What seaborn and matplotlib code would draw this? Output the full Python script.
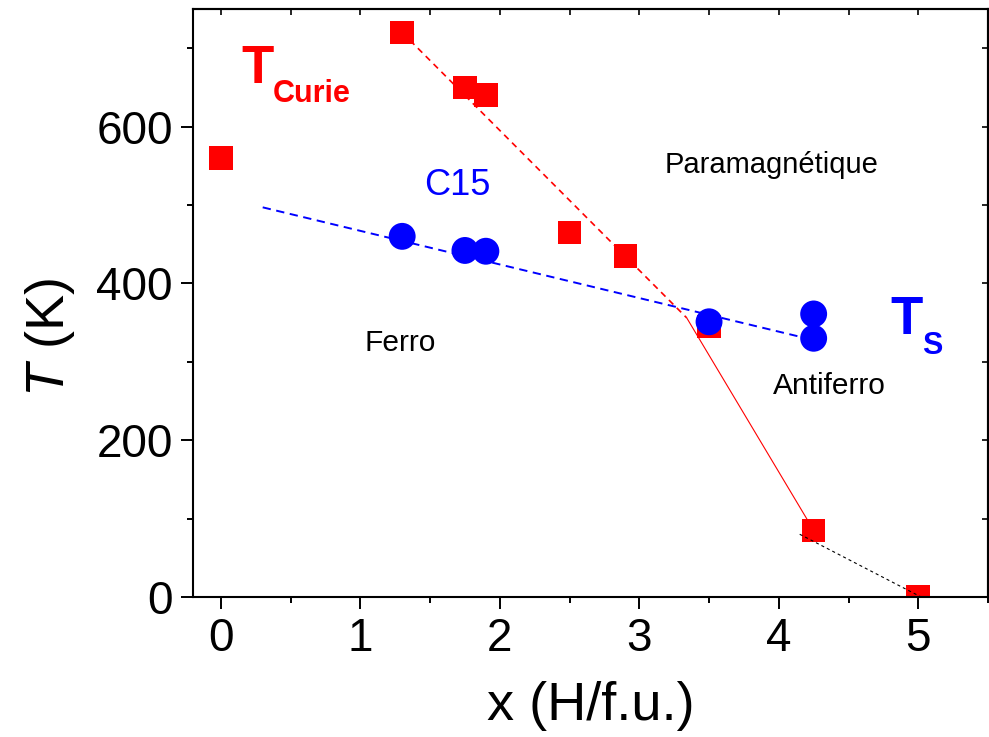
import matplotlib
matplotlib.use("Agg")
import matplotlib.pyplot as plt
from matplotlib.ticker import MultipleLocator
import numpy as np
import pandas as pd
import seaborn as sns

# Curie temperatures (red squares)
x_curie = [0.0, 1.3, 1.75, 1.9, 2.5, 2.9, 3.5, 4.25, 5.0]
t_curie = [560, 720, 650, 640, 465, 435, 345, 85, 0]

# Structural transition temperatures (blue circles)
x_struct = [1.3, 1.75, 1.9, 3.5, 4.25, 4.25]
t_struct = [460, 442, 441, 351, 361, 330]

# Guide lines through the phase boundaries
x_fit_curie = [1.3, 3.34]
t_fit_curie = [720, 356]
x_fit_afm = [3.34, 4.25]
t_fit_afm = [356, 85]
x_fit_tail = [4.15, 5.02]
t_fit_tail = [80, 0]
x_fit_struct = [0.3, 4.15]
t_fit_struct = [497, 332]

x_ticks = [0, 1, 2, 3, 4, 5]
y_ticks = [0, 200, 400, 600]

sns.set_style("ticks")
plt.rcParams["font.family"] = ["Liberation Sans", "DejaVu Sans"]
plt.rcParams["mathtext.fontset"] = "custom"
plt.rcParams["mathtext.rm"] = "Liberation Sans"
plt.rcParams["mathtext.it"] = "Liberation Sans:italic"
plt.rcParams["lines.scale_dashes"] = False
plt.rcParams["axes.labelcolor"] = "black"
plt.rcParams["text.color"] = "black"

fig = plt.figure(figsize=(9.89, 7.37), dpi=100)
ax = fig.add_axes([0.1951, 0.19, 0.8039, 0.7978])

red = "#ff0000"
blue = "#0000ff"

def guide(xs, ys, color, lw, ls, z):
    df = pd.DataFrame({"x": xs, "y": ys})
    sns.lineplot(data=df, x="x", y="y", ax=ax, color=color, linewidth=lw,
                 linestyle=ls, sort=False, zorder=z, estimator=None)

guide(x_fit_curie, t_fit_curie, red, 1.2, (0, (4.5, 3.5)), 1)
guide(x_fit_afm, t_fit_afm, red, 0.8, "-", 1)
guide(x_fit_struct, t_fit_struct, blue, 1.4, (0, (6, 4)), 1)

sns.scatterplot(x=x_curie, y=t_curie, ax=ax, marker="s", s=290, color=red,
                linewidth=0, edgecolor="none", zorder=2)
sns.scatterplot(x=x_struct, y=t_struct, ax=ax, marker="o", s=375, color=blue,
                linewidth=0, edgecolor="none", zorder=3)

guide(x_fit_tail, t_fit_tail, "black", 0.8, (0, (2.2, 2.2)), 4)

ax.set_xlim(-0.2, 5.5)
ax.set_ylim(0, 750)
ax.set_xticks(x_ticks)
ax.set_yticks(y_ticks)
ax.xaxis.set_minor_locator(MultipleLocator(0.5))
ax.yaxis.set_minor_locator(MultipleLocator(100))

for s in ax.spines.values():
    s.set_linewidth(1.5)
    s.set_color("black")

ax.tick_params(axis="both", which="major", direction="out", length=8.5,
               width=1.4, labelsize=33, pad=6, colors="black")
ax.tick_params(axis="both", which="minor", direction="out", length=4.3,
               width=1.4, colors="black")

# inward ticks on the top and right edges
top = ax.secondary_xaxis("top")
top.set_xticks(x_ticks)
top.xaxis.set_minor_locator(MultipleLocator(0.5))
top.tick_params(which="both", direction="in", length=4, width=1.2,
                labeltop=False, colors="black")
top.spines["top"].set_linewidth(1.5)
right = ax.secondary_yaxis("right")
right.set_yticks(y_ticks)
right.yaxis.set_minor_locator(MultipleLocator(100))
right.tick_params(which="both", direction="in", length=4, width=1.2,
                  labelright=False, colors="black")
right.spines["right"].set_linewidth(1.5)

ax.set_xlabel("x (H/f.u.)", fontsize=39, labelpad=14, color="black")
ax.set_ylabel(r"$T$ (K)", fontsize=39, labelpad=14, color="black", y=0.442)

# phase labels
ax.text(0.15, 656, "T", color=red, fontsize=38, fontweight="bold",
        ha="left", va="baseline")
ax.text(0.375, 631, "Curie", color=red, fontsize=22, fontweight="bold",
        ha="left", va="baseline")
ax.text(4.80, 336, "T", color=blue, fontsize=38, fontweight="bold",
        ha="left", va="baseline")
ax.text(5.03, 310, "S", color=blue, fontsize=22, fontweight="bold",
        ha="left", va="baseline")
ax.text(1.46, 513, "C15", color=blue, fontsize=26, ha="left", va="baseline")
ax.text(3.185, 541, "Paramagnétique", color="black", fontsize=21,
        ha="left", va="baseline")
ax.text(1.033, 314, "Ferro", color="black", fontsize=21.5,
        ha="left", va="baseline")
ax.text(3.96, 259, "Antiferro", color="black", fontsize=21.5,
        ha="left", va="baseline")

fig.savefig("out.png", dpi=100)
